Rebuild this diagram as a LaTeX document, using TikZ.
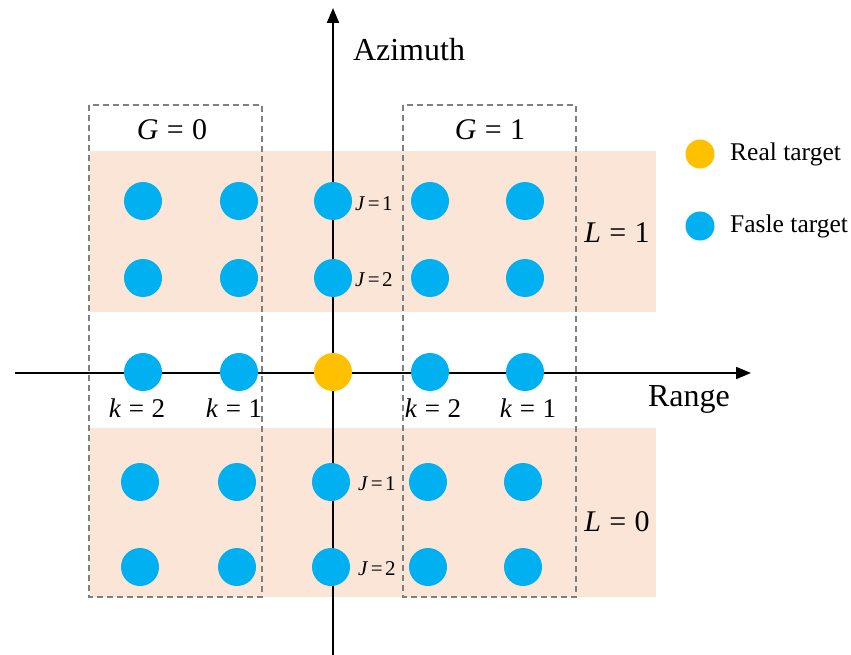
\documentclass[tikz,border=0pt]{standalone}
\usepackage{fontspec}
\setmainfont{Liberation Serif}
\usetikzlibrary{arrows.meta}
\definecolor{fblue}{HTML}{00B0F0}
\definecolor{forange}{HTML}{FFC000}
\definecolor{bandc}{HTML}{FBE5D6}
\definecolor{dashgray}{HTML}{7F7F7F}
\newcommand{\eqlab}[2]{\textit{#1}\hspace{0.28em}=\hspace{0.28em}#2}
\newcommand{\eqtight}[2]{\textit{#1}\hspace{0.12em}=\hspace{0.12em}#2}
\begin{document}
\begin{tikzpicture}[x=1pt,y=-1pt,
  tgt/.style={circle,fill=fblue,minimum size=38pt,inner sep=0pt},
  realtgt/.style={circle,fill=forange,minimum size=38pt,inner sep=0pt},
  legdot/.style={circle,minimum size=29pt,inner sep=0pt},
  axisline/.style={line width=2pt,-{Triangle[length=15pt,width=12pt]}},
  grp/.style={draw=dashgray,line width=1.3pt,dash pattern=on 6pt off 4pt},
  bandbox/.style={fill=bandc,draw=none},
  biglab/.style={font=\fontsize{32}{38}\selectfont,inner sep=0pt},
  glab/.style={font=\fontsize{30}{36}\selectfont,inner sep=0pt},
  klab/.style={font=\fontsize{27}{32}\selectfont,inner sep=0pt},
  jlab/.style={font=\fontsize{21}{25}\selectfont,inner sep=0pt},
  leglab/.style={font=\fontsize{25.5}{30}\selectfont,inner sep=0pt,anchor=west}]
\useasboundingbox (0,0) rectangle (851,655);
% bands
\fill[bandbox] (90,151) rectangle (656,312);
\fill[bandbox] (90,428) rectangle (656,597);
% group boxes
\draw[grp] (89,105) rectangle (262,597);
\draw[grp] (403,105) rectangle (576,597);
% axes
\coordinate (hs) at (15,373);
\coordinate (he) at (751,373);
\coordinate (vs) at (333,655);
\coordinate (ve) at (333,8);
\draw[axisline] (hs) -- (he);
\draw[axisline] (vs) -- (ve);
% targets
\node[tgt] (a1) at (143,201) {};
\node[tgt] (a2) at (239,201) {};
\node[tgt] (a3) at (333,201) {};
\node[tgt] (a4) at (430,201) {};
\node[tgt] (a5) at (525,201) {};
\node[tgt] (b1) at (143,278) {};
\node[tgt] (b2) at (239,278) {};
\node[tgt] (b3) at (333,278) {};
\node[tgt] (b4) at (430,278) {};
\node[tgt] (b5) at (525,278) {};
\node[tgt] (c1) at (143,372) {};
\node[tgt] (c2) at (239,372) {};
\node[realtgt] (c3) at (333,372) {};
\node[tgt] (c4) at (430,372) {};
\node[tgt] (c5) at (525,372) {};
\node[tgt] (d1) at (140,482) {};
\node[tgt] (d2) at (237,482) {};
\node[tgt] (d3) at (331,482) {};
\node[tgt] (d4) at (428,482) {};
\node[tgt] (d5) at (523,482) {};
\node[tgt] (e1) at (140,567) {};
\node[tgt] (e2) at (237,567) {};
\node[tgt] (e3) at (331,567) {};
\node[tgt] (e4) at (428,567) {};
\node[tgt] (e5) at (523,567) {};
% axis labels
\node[biglab] (az) at (409,50) {Azimuth};
\node[biglab] (rg) at (689,399) {Range};
% group labels
\node[glab] (g0) at (172,130) {\eqlab{G}{0}};
\node[glab] (g1) at (490,130) {\eqlab{G}{1}};
\node[glab] (l1) at (617,233) {\eqlab{L}{1}};
\node[glab] (l0) at (617,522) {\eqlab{L}{0}};
% k labels
\node[klab] (k2a) at (137,408) {\eqlab{k}{2}};
\node[klab] (k1a) at (234,408) {\eqlab{k}{1}};
\node[klab] (k2b) at (433,408) {\eqlab{k}{2}};
\node[klab] (k1b) at (528,408) {\eqlab{k}{1}};
% J labels
\node[jlab] (j1a) at (374,204) {\eqtight{J}{1}};
\node[jlab] (j2a) at (374,280) {\eqtight{J}{2}};
\node[jlab] (j1b) at (377,484) {\eqtight{J}{1}};
\node[jlab] (j2b) at (377,569) {\eqtight{J}{2}};
% legend
\node[legdot,fill=forange] (lr) at (700,154) {};
\node[leglab] (lrt) at (730,154) {Real target};
\node[legdot,fill=fblue] (lf) at (700,226) {};
\node[leglab] (lft) at (730,226) {Fasle target};
\end{tikzpicture}
\end{document}
